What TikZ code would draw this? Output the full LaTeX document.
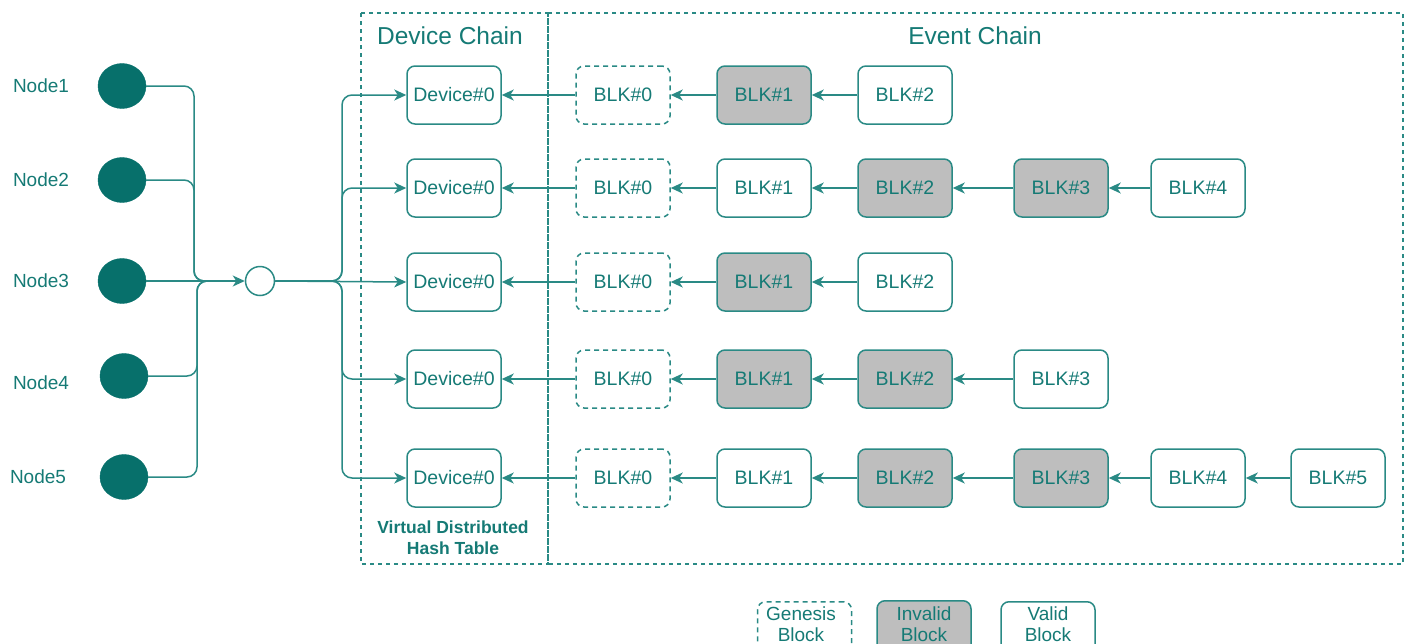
\documentclass[tikz,border=0pt]{standalone}
\usepackage{fontspec}
\setmainfont{Liberation Sans}
\usetikzlibrary{arrows.meta,shapes.geometric}
\definecolor{tealtext}{HTML}{157A75}
\definecolor{tealline}{HTML}{2A8A85}
\definecolor{tealfill}{HTML}{07706B}
\definecolor{invalidgrey}{HTML}{BEBEBE}
\tikzset{
  blk/.style={draw=tealline, line width=1.5pt, rounded corners=8pt,
    minimum width=94pt, minimum height=58pt, inner sep=0pt,
    text=tealtext, font=\fontsize{19.5}{22}\selectfont},
  genesis/.style={blk, dash pattern=on 5pt off 4pt},
  invalid/.style={blk, fill=invalidgrey},
  valid/.style={blk, fill=white},
  peer/.style={ellipse, fill=tealfill, draw=tealfill, minimum width=48pt, minimum height=45pt, inner sep=0pt},
  peerlabel/.style={text=tealtext, font=\fontsize{19}{22}\selectfont},
  title/.style={text=tealtext, font=\fontsize{24.5}{28}\selectfont},
  frame/.style={draw=tealline, line width=1.4pt, dash pattern=on 4pt off 4pt},
  conn/.style={draw=tealline, line width=1.5pt},
  arr/.style={conn, -{Stealth[length=12pt,width=11pt,inset=3.5pt]}},
  legendtext/.style={text=tealtext, align=center, font=\fontsize{19}{21}\selectfont},
}
\begin{document}
\begin{tikzpicture}[x=1pt,y=-1pt]
\useasboundingbox (0,0) rectangle (1409,643);
\clip (0,0) rectangle (1409,643);

% dashed frames
\draw[frame] (361,13) rectangle (548,564);
\draw[frame] (548,13) rectangle (1403,564);
\node[title] (tdev) at (450,36) {Device Chain};
\node[title] (tevt) at (975,36) {Event Chain};

% peers
\node[peer] (p1) at (122,86) {};
\node[peer] (p2) at (122,180) {};
\node[peer] (p3) at (122,281) {};
\node[peer] (p4) at (124,376) {};
\node[peer] (p5) at (124,477) {};
\node[peerlabel] (l1) at (41,86) {Node1};
\node[peerlabel] (l2) at (41,180) {Node2};
\node[peerlabel] (l3) at (41,281) {Node3};
\node[peerlabel] (l4) at (41,383) {Node4};
\node[peerlabel] (l5) at (38,477) {Node5};

% hub
\node[circle, draw=tealline, line width=1.5pt, fill=white, minimum size=29pt, inner sep=0pt] (hub) at (260,281) {};
\coordinate (mA) at (194,281);
\coordinate (mB) at (197,281);
\coordinate (mEnd) at (234,281);
\coordinate (split) at (342,281);

\draw[conn, rounded corners=10pt] (p1.east) -| (mA) -- (mEnd);
\draw[conn, rounded corners=10pt] (p2.east) -| (mA) -- (mEnd);
\draw[conn, rounded corners=10pt] (p4.east) -| (mB) -- (mEnd);
\draw[conn, rounded corners=10pt] (p5.east) -| (mB) -- (mEnd);
\draw[arr] (p3) -- (hub);

% device chain
\node[valid] (d1) at (454,95) {Device\#0};
\node[valid] (d2) at (454,188) {Device\#0};
\node[valid] (d3) at (454,282) {Device\#0};
\node[valid] (d4) at (454,379) {Device\#0};
\node[valid] (d5) at (454,478) {Device\#0};

\draw[arr, rounded corners=10pt] (hub.east) -- (split) |- (d1.west);
\draw[arr, rounded corners=10pt] (hub.east) -- (split) |- (d2.west);
\draw[arr] (hub.east) -- (d3.west);
\draw[arr, rounded corners=10pt] (hub.east) -- (split) |- (d4.west);
\draw[arr, rounded corners=10pt] (hub.east) -- (split) |- (d5.west);

\node[text=tealtext, align=center, font=\bfseries\fontsize{17.5}{21}\selectfont] (vdht) at (453,538) {Virtual Distributed\\Hash Table};

% row 1
\node[genesis] (a0) at (623,95) {BLK\#0};
\node[invalid] (a1) at (764,95) {BLK\#1};
\node[valid]   (a2) at (905,95) {BLK\#2};
\draw[arr] (a0) -- (d1);
\draw[arr] (a1) -- (a0);
\draw[arr] (a2) -- (a1);

% row 2
\node[genesis] (b0) at (623,188) {BLK\#0};
\node[valid]   (b1) at (764,188) {BLK\#1};
\node[invalid] (b2) at (905,188) {BLK\#2};
\node[invalid] (b3) at (1061,188) {BLK\#3};
\node[valid]   (b4) at (1198,188) {BLK\#4};
\draw[arr] (b0) -- (d2);
\draw[arr] (b1) -- (b0);
\draw[arr] (b2) -- (b1);
\draw[arr] (b3) -- (b2);
\draw[arr] (b4) -- (b3);

% row 3
\node[genesis] (c0) at (623,282) {BLK\#0};
\node[invalid] (c1) at (764,282) {BLK\#1};
\node[valid]   (c2) at (905,282) {BLK\#2};
\draw[arr] (c0) -- (d3);
\draw[arr] (c1) -- (c0);
\draw[arr] (c2) -- (c1);

% row 4
\node[genesis] (e0) at (623,379) {BLK\#0};
\node[invalid] (e1) at (764,379) {BLK\#1};
\node[invalid] (e2) at (905,379) {BLK\#2};
\node[valid]   (e3) at (1061,379) {BLK\#3};
\draw[arr] (e0) -- (d4);
\draw[arr] (e1) -- (e0);
\draw[arr] (e2) -- (e1);
\draw[arr] (e3) -- (e2);

% row 5
\node[genesis] (f0) at (623,478) {BLK\#0};
\node[valid]   (f1) at (764,478) {BLK\#1};
\node[invalid] (f2) at (905,478) {BLK\#2};
\node[invalid] (f3) at (1061,478) {BLK\#3};
\node[valid]   (f4) at (1198,478) {BLK\#4};
\node[valid]   (f5) at (1338,478) {BLK\#5};
\draw[arr] (f0) -- (d5);
\draw[arr] (f1) -- (f0);
\draw[arr] (f2) -- (f1);
\draw[arr] (f3) -- (f2);
\draw[arr] (f4) -- (f3);
\draw[arr] (f5) -- (f4);

% legend
\node[genesis, anchor=north, minimum height=62pt] (lg) at (804.5,601) {};
\node[invalid, anchor=north, minimum height=62pt] (li) at (924,600) {};
\node[valid,   anchor=north, minimum height=62pt] (lv) at (1048,601) {};
\node[legendtext] (lgt) at (801,624) {Genesis\\Block};
\node[legendtext] (lit) at (924,624) {Invalid\\Block};
\node[legendtext] (lvt) at (1048,624) {Valid\\Block};
\end{tikzpicture}
\end{document}
